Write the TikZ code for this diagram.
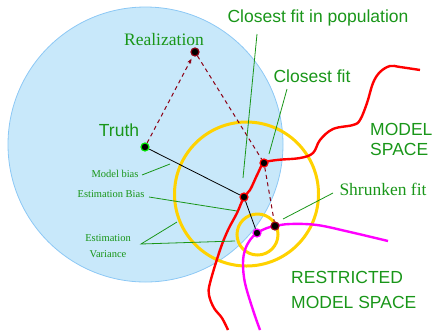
\documentclass[tikz,border=0pt]{standalone}
\usepackage{fontspec}
\setmainfont{Liberation Serif}
\setsansfont{Liberation Sans}
\usetikzlibrary{arrows.meta}
\definecolor{skyfill}{RGB}{200,232,250}
\definecolor{skyline}{RGB}{140,200,245}
\definecolor{lblgreen}{RGB}{25,150,25}
\definecolor{ring}{RGB}{255,210,0}
\definecolor{walk}{RGB}{140,0,20}
\definecolor{mspace}{RGB}{255,0,0}
\definecolor{rspace}{RGB}{255,0,255}
\definecolor{truthgreen}{RGB}{0,230,0}

\begin{document}
\begin{tikzpicture}[x=1pt, y=-1pt,
    dot/.style={circle, fill=black, draw=#1, line width=1.2pt, inner sep=0pt,
                minimum size=8pt},
    sans/.style={text=lblgreen, font=\sffamily\fontsize{17.5}{20}\selectfont,
                 inner sep=0pt, align=left},
    serif/.style={text=lblgreen, font=\fontsize{17.5}{20}\selectfont, inner sep=0pt},
    small/.style={text=lblgreen, font=\fontsize{10.5}{16}\selectfont, inner sep=0pt,
                  align=center},
    lead/.style={lblgreen, line width=0.8pt},
    walkline/.style={walk, line width=1pt, dash pattern=on 4pt off 3.5pt},
    fitline/.style={black, line width=0.8pt},
  ]
    \useasboundingbox (0,0) rectangle (435,330);
    % population ball and the two error rings
    \draw[skyline, fill=skyfill, line width=0.8pt] (145.5,144.5) circle[radius=137.5pt];
    \draw[ring, line width=3pt] (246.5,194) circle[radius=72pt];
    \draw[ring, line width=3pt] (257.5,234.5) circle[radius=20.5pt];
    % model spaces
    \draw[mspace, line width=2.4pt] plot[smooth, tension=0.6] coordinates {
       (420,70) (400,67) (390,66) (380,72) (373,83) (367,103) (360,120) (353,125)
       (333,129) (320,140) (313,153) (300,158) (277,160) (264,163) (258,173)
       (250,190) (244,197) (237,213) (228,230) (220,250) (210,283) (209,295)
       (214,308) (222,318) (228,330)};
    \draw[rspace, line width=2.4pt] plot[smooth, tension=0.6] coordinates {
       (388,241) (350,232) (317,225) (290,224) (275,226) (267,228) (257,233)
       (250,240) (245,250) (243,263) (245,283) (253,310) (260,330)};
    % points
    \node[dot=truthgreen] (truth) at (145,147) {};
    \node[dot=walk] (real) at (195,52) {};
    \node[dot=mspace] (cfit) at (264,163) {};
    \node[dot=mspace] (cpop) at (244,197) {};
    \node[dot=rspace] (rpop) at (257,233) {};
    \node[dot=walk] (shrunk) at (275,226) {};
    \draw[walkline, -{Stealth[length=5pt, width=4pt]}, shorten >=3pt] (truth) -- (real);
    \draw[walkline] (real) -- (cfit);
    \draw[walkline] (cfit) -- (shrunk);
    \draw[fitline] (truth) -- (cpop);
    \draw[fitline] (cpop) -- (rpop);
    % labels
    \node[serif] (lreal) at (164,40) {Realization};
    \node[sans] (ltruth) at (119,130) {Truth};
    \node[sans] (lpop) at (318,18) {Closest fit in population};
    \node[sans] (lcfit) at (312,76) {Closest fit};
    \node[sans, anchor=west] (lmodel) at (370,139) {MODEL\\SPACE};
    \node[serif] (lshrunk) at (383,189) {Shrunken fit};
    \node[sans, anchor=west] (lrestr) at (291,290)
       {RESTRICTED\\[5pt]MODEL SPACE};
    \node[small] (lmbias) at (115,174) {Model bias};
    \node[small] (lebias) at (111,194) {Estimation Bias};
    \node[small] (levar) at (108,246) {Estimation\\Variance};
    % leaders
    \coordinate (p1) at (257,34);  \coordinate (q1) at (243,178);
    \coordinate (p2) at (287,89);  \coordinate (q2) at (269,154);
    \coordinate (p3) at (333,193); \coordinate (q3) at (283,219);
    \coordinate (p4) at (142,175); \coordinate (q4) at (170,164);
    \coordinate (p5) at (149,197); \coordinate (q5) at (237,211);
    \coordinate (p6) at (141,244); \coordinate (q6) at (177,222);
    \coordinate (q7) at (235,241);
    \draw[lead] (p1) -- (q1);
    \draw[lead] (p2) -- (q2);
    \draw[lead] (p3) -- (q3);
    \draw[lead] (p4) -- (q4);
    \draw[lead] (p5) -- (q5);
    \draw[lead] (q6) -- (p6) -- (q7);
  \end{tikzpicture}
\end{document}
